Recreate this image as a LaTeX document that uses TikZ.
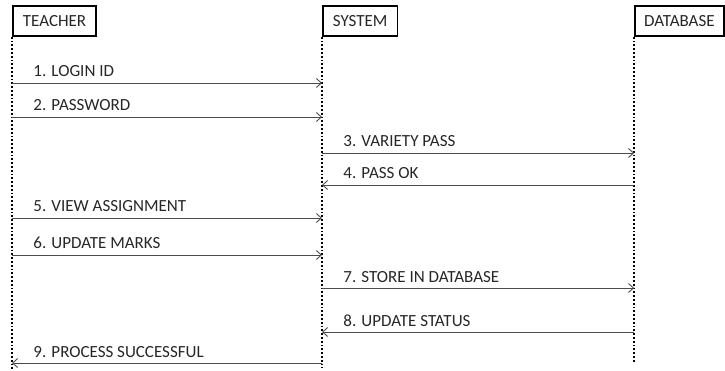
\documentclass[tikz,border=0pt]{standalone}
\usepackage{fontspec}
\setmainfont{Carlito}
\usetikzlibrary{arrows.meta,positioning}

\begin{document}
\begin{tikzpicture}[x=1pt, y=-1pt,
  actor/.style={rectangle, draw, line width=1.8pt, minimum height=30pt, inner xsep=10pt, font=\fontsize{17}{20}\selectfont, text=black!85},
  lifeline/.style={dotted, line width=1.8pt},
  msg/.style={-{Straight Barb[length=5pt,width=9pt]}, draw=black!70, line width=0.9pt},
  msgback/.style={{Straight Barb[length=5pt,width=9pt]}-, draw=black!70, line width=0.9pt},
  msglabel/.style={anchor=base west, font=\fontsize{17}{20}\selectfont, text=black!85, inner sep=0pt, xshift=21pt, yshift=6pt},
]
\useasboundingbox (0,0) rectangle (725,371);

% === Participants ===
\node[actor, anchor=north west] (teacher) at (12,5) {TEACHER};
\node[actor, anchor=north west] (system) at (322,5) {SYSTEM};
\node[actor, anchor=north east, inner xsep=9pt] (database) at (724.5,5) {DATABASE};

% === Lifelines ===
\coordinate (teacherEnd) at (teacher.south west |- 0,371);
\coordinate (systemEnd) at (system.south west |- 0,368);
\coordinate (databaseEnd) at (database.south west |- 0,363);
\draw[lifeline] (teacher.south west) -- (teacherEnd);
\draw[lifeline] (system.south west) -- (systemEnd);
\draw[lifeline] (database.south west) -- (databaseEnd);

% === Messages ===
\draw[msg] (teacher.south west |- 0,83) -- (system.south west |- 0,83) node[msglabel, at start] {1. LOGIN ID};
\draw[msg] (teacher.south west |- 0,117) -- (system.south west |- 0,117) node[msglabel, at start] {2. PASSWORD};
\draw[msg] (system.south west |- 0,153) -- (database.south west |- 0,153) node[msglabel, at start] {3. VARIETY PASS};
\draw[msgback] (system.south west |- 0,185) -- (database.south west |- 0,185) node[msglabel, at start] {4. PASS OK};
\draw[msg] (teacher.south west |- 0,218) -- (system.south west |- 0,218) node[msglabel, at start] {5. VIEW ASSIGNMENT};
\draw[msg] (teacher.south west |- 0,255) -- (system.south west |- 0,255) node[msglabel, at start] {6. UPDATE MARKS};
\draw[msg] (system.south west |- 0,288) -- (database.south west |- 0,288) node[msglabel, at start] {7. STORE IN DATABASE};
\draw[msgback] (system.south west |- 0,332) -- (database.south west |- 0,332) node[msglabel, at start] {8. UPDATE STATUS};
\draw[msgback] (teacher.south west |- 0,363) -- (system.south west |- 0,363) node[msglabel, at start] {9. PROCESS SUCCESSFUL};

\end{tikzpicture}
\end{document}
